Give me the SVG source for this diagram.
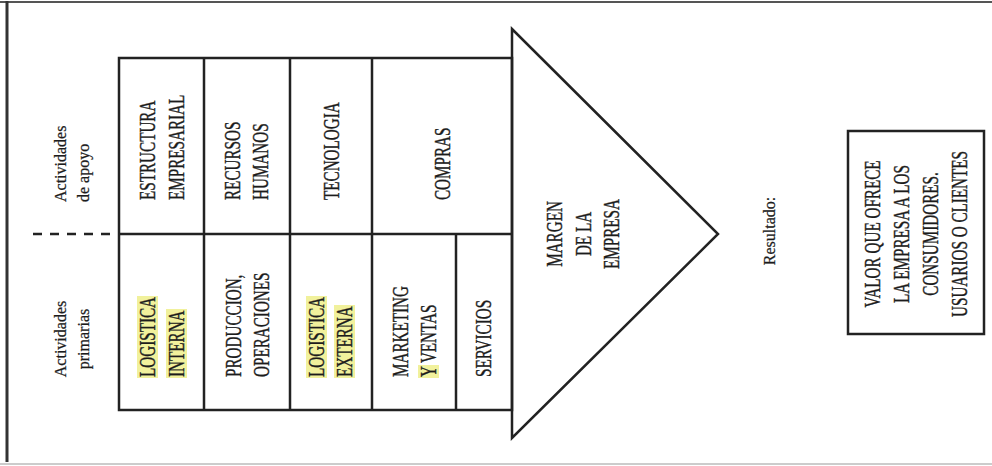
<svg xmlns="http://www.w3.org/2000/svg" width="992" height="466" viewBox="0 0 992 466">
<style>
.ln{stroke:#222;stroke-width:2.5;fill:none}
.cap{font-family:"Liberation Serif","Times New Roman",serif;font-size:23px;fill:#1c1c1c;stroke:#1c1c1c;stroke-width:0.4}
.low{font-family:"Liberation Serif","Times New Roman",serif;font-size:16px;fill:#1c1c1c;stroke:#1c1c1c;stroke-width:0.25}
.mid{text-anchor:middle}
.hl{fill:#f1f19c}
</style>
<rect x="0" y="0" width="992" height="466" fill="#ffffff"/>
<g id="frame">
<line x1="0" y1="2" x2="992" y2="2" stroke="#555" stroke-width="2"/>
<line x1="7" y1="1" x2="7" y2="462" stroke="#333" stroke-width="3"/>
<line x1="0" y1="464" x2="992" y2="464" stroke="#bbb" stroke-width="1.5"/>
</g>
<g id="connectors">
<line class="ln" x1="33" y1="234" x2="119" y2="234" stroke-dasharray="9 8"/>
</g>
<g id="chain">
<rect class="ln" x="119" y="58" width="393" height="352"/>
<line class="ln" x1="119" y1="234" x2="512" y2="234"/>
<line class="ln" x1="204" y1="58" x2="204" y2="410"/>
<line class="ln" x1="290" y1="58" x2="290" y2="410"/>
<line class="ln" x1="372" y1="58" x2="372" y2="410"/>
<line class="ln" x1="456" y1="234" x2="456" y2="410"/>
<polygon class="ln" points="512,29 718,234 512,438"/>
</g>
<g id="label-apoyo">
<text class="low" transform="translate(66,202) rotate(-90)">Actividades</text>
<text class="low" transform="translate(89,202) rotate(-90)">de apoyo</text>
</g>
<g id="label-primarias">
<text class="low mid" transform="translate(66,339) rotate(-90)">Actividades</text>
<text class="low mid" transform="translate(89,339) rotate(-90)">primarias</text>
</g>
<g id="estructura">
<text class="cap" transform="translate(155,200) rotate(-90) scale(0.66,1)">ESTRUCTURA</text>
<text class="cap" transform="translate(184,200) rotate(-90) scale(0.66,1)">EMPRESARIAL</text>
</g>
<g id="rrhh">
<text class="cap" transform="translate(240,200) rotate(-90) scale(0.66,1)">RECURSOS</text>
<text class="cap" transform="translate(268,200) rotate(-90) scale(0.66,1)">HUMANOS</text>
</g>
<g id="tecnologia">
<text class="cap" transform="translate(339,200) rotate(-90) scale(0.66,1)">TECNOLOGIA</text>
</g>
<g id="compras">
<text class="cap" transform="translate(450,200) rotate(-90) scale(0.66,1)">COMPRAS</text>
</g>
<g id="logistica-interna">
<rect class="hl" x="137" y="296" width="21" height="82"/>
<rect class="hl" x="166" y="309" width="21" height="69"/>
<text class="cap" transform="translate(155,377) rotate(-90) scale(0.66,1)">LOGISTICA</text>
<text class="cap" transform="translate(184,377) rotate(-90) scale(0.66,1)">INTERNA</text>
</g>
<g id="produccion">
<text class="cap" transform="translate(241,377) rotate(-90) scale(0.66,1)">PRODUCCION,</text>
<text class="cap" transform="translate(269,377) rotate(-90) scale(0.66,1)">OPERACIONES</text>
</g>
<g id="logistica-externa">
<rect class="hl" x="306" y="296" width="21" height="82"/>
<rect class="hl" x="334" y="305" width="21" height="73"/>
<text class="cap" transform="translate(324,377) rotate(-90) scale(0.66,1)">LOGISTICA</text>
<text class="cap" transform="translate(352,377) rotate(-90) scale(0.66,1)">EXTERNA</text>
</g>
<g id="marketing">
<rect class="hl" x="418" y="365" width="21" height="13"/>
<text class="cap" transform="translate(408,377) rotate(-90) scale(0.66,1)">MARKETING</text>
<text class="cap" transform="translate(436,377) rotate(-90) scale(0.66,1)">Y VENTAS</text>
</g>
<g id="servicios">
<text class="cap" transform="translate(491,377) rotate(-90) scale(0.66,1)">SERVICIOS</text>
</g>
<g id="margen">
<text class="cap mid" transform="translate(562,234) rotate(-90) scale(0.66,1)">MARGEN</text>
<text class="cap mid" transform="translate(591,234) rotate(-90) scale(0.66,1)">DE LA</text>
<text class="cap mid" transform="translate(619,234) rotate(-90) scale(0.66,1)">EMPRESA</text>
</g>
<g id="resultado">
<text class="low mid" transform="translate(775,231) rotate(-90)">Resultado:</text>
</g>
<g id="valor">
<rect class="ln" x="848" y="131" width="136" height="203"/>
<text class="cap mid" transform="translate(880,234) rotate(-90) scale(0.66,1)">VALOR QUE OFRECE</text>
<text class="cap mid" transform="translate(909,234) rotate(-90) scale(0.66,1)">LA EMPRESA A LOS</text>
<text class="cap mid" transform="translate(938,234) rotate(-90) scale(0.66,1)">CONSUMIDORES.</text>
<text class="cap mid" transform="translate(967,234) rotate(-90) scale(0.66,1)">USUARIOS O CLIENTES</text>
</g>
</svg>
